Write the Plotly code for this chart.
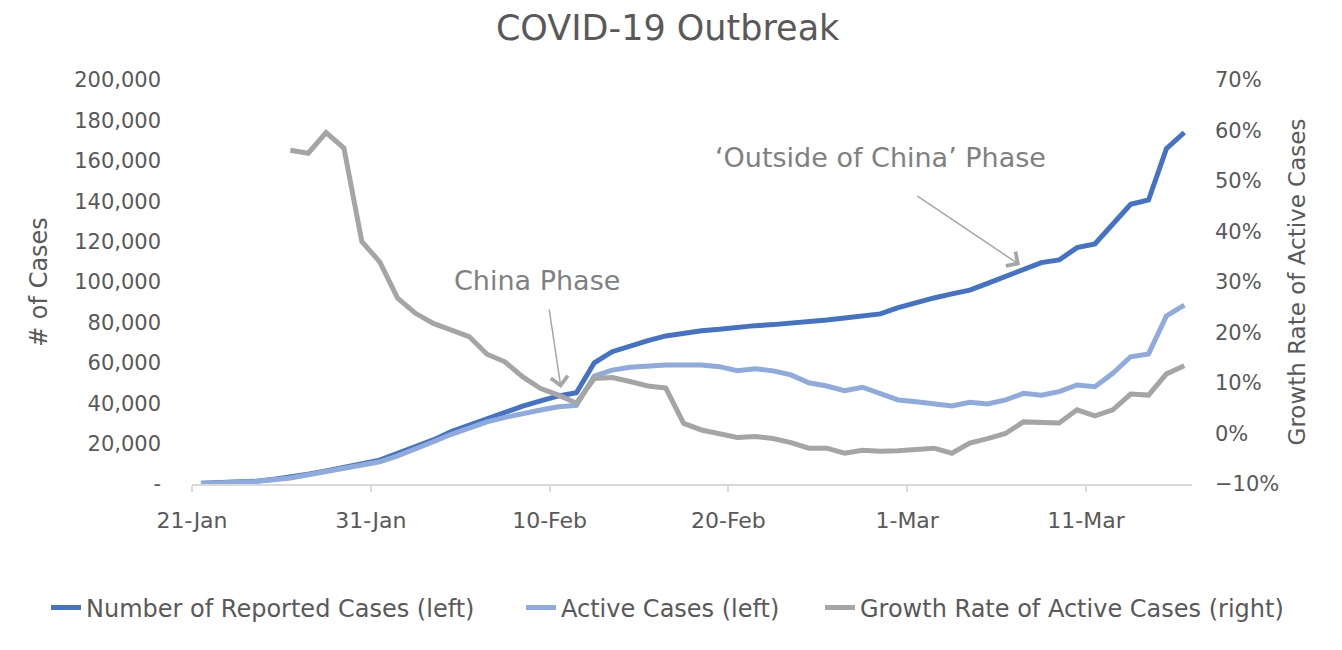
import pandas as pd
import plotly.graph_objects as go

# ---- data ----
dates = pd.date_range("2020-01-21", periods=56, freq="D")

reported_cases = [
    400, 600, 800, 1300, 2200, 3200, 4800, 6500, 8300, 10000,
    11800, 15200, 18200, 21800, 25900, 29200, 32500, 35800, 38600, 41200,
    43600, 45200, 60000, 65500, 68500, 71000, 73300, 74900, 75900, 76600,
    77600, 78400, 78900, 79500, 80200, 81200, 82200, 83200, 84200, 87300,
    89800, 92100, 94100, 96000, 99300, 102600, 106300, 109600, 110900, 117000,
    118800, 129000, 138500, 140600, 166000, 174000,
]

active_cases = [
    300, 500, 700, 1200, 2100, 3000, 4600, 6200, 7900, 9500,
    11000, 13900, 17200, 20900, 24600, 27600, 30800, 33000, 35000, 36600,
    38200, 38900, 53400, 56400, 57800, 58400, 58900, 58900, 58900, 58100,
    56100, 57100, 56000, 54000, 50100, 48500, 46200, 47900, 44900, 41600,
    40700, 39600, 38600, 40500, 39600, 41600, 44900, 44000, 45700, 49000,
    48200, 54800, 63000, 64400, 83200, 88600,
]

growth_rate = [
    None, None, None, None, None, 0.561, 0.555, 0.596, 0.565, 0.380,
    0.340, 0.268, 0.238, 0.218, 0.205, 0.192, 0.157, 0.142, 0.112, 0.089,
    0.076, 0.060, 0.109, 0.111, 0.103, 0.094, 0.090, 0.020, 0.007, -0.001,
    -0.008, -0.006, -0.010, -0.018, -0.029, -0.029, -0.039, -0.033, -0.035, -0.034,
    -0.031, -0.029, -0.039, -0.019, -0.010, 0.000, 0.023, 0.023, 0.021, 0.047,
    0.035, 0.047, 0.078, 0.076, 0.118, 0.134,
]

left_ticks = list(range(0, 200001, 20000))
left_tick_text = ["-" if v == 0 else f"{v:,}" for v in left_ticks]
right_ticks = [v / 100 for v in range(-10, 71, 10)]

FONT = "DejaVu Sans"
TXT = "#595959"
ANN = "#808080"

fig = go.Figure()
common = dict(x=dates, mode="lines", xperiod=86400000, xperiodalignment="middle")
fig.add_trace(go.Scatter(y=reported_cases, name="Number of Reported Cases (left)",
                         line=dict(color="#4472C4", width=5), legend="legend", **common))
fig.add_trace(go.Scatter(y=active_cases, name="Active Cases (left)",
                         line=dict(color="#8FAADC", width=5), legend="legend2", **common))
fig.add_trace(go.Scatter(y=growth_rate, name="Growth Rate of Active Cases (right)",
                         line=dict(color="#A5A5A5", width=5), yaxis="y2",
                         connectgaps=False, legend="legend3", **common))

legend_y = -(608 - 484) / 404


def legend_at(px_left):
    return dict(orientation="h", xref="paper", x=(px_left - 192) / 1000, xanchor="left",
                yref="paper", y=legend_y, yanchor="middle",
                font=dict(size=24, color=TXT, family=FONT),
                itemwidth=30, bgcolor="rgba(0,0,0,0)")


fig.update_layout(
    width=1342, height=650,
    margin=dict(l=192, r=150, t=80, b=166, autoexpand=False),
    paper_bgcolor="white", plot_bgcolor="white",
    font=dict(family=FONT, color=TXT, size=21),
    title=dict(text="COVID-19 Outbreak", x=0.4975, xanchor="center",
               y=1 - 28 / 650, yanchor="middle", yref="container",
               font=dict(size=35, color=TXT, family=FONT)),
    xaxis=dict(
        type="date",
        range=["2020-01-21", "2020-03-16 22:20"],
        tick0="2020-01-21", dtick=864000000, tickformat="%-d-%b",
        showgrid=False, zeroline=False,
        showline=True, linecolor="#D9D9D9", linewidth=1.5,
        ticks="outside", ticklen=6, tickcolor="#D9D9D9", tickwidth=1.5,
        tickfont=dict(size=22, color=TXT, family=FONT),
        ticklabelstandoff=10,
    ),
    yaxis=dict(
        range=[0, 200000], tickvals=left_ticks, ticktext=left_tick_text,
        showgrid=False, zeroline=False, showline=False,
        tickfont=dict(size=21, color=TXT, family=FONT),
        ticklabelstandoff=30,
        title=dict(text="# of Cases", font=dict(size=24, color=TXT, family=FONT), standoff=19),
    ),
    yaxis2=dict(
        overlaying="y", side="right",
        range=[-0.10, 0.70], tickvals=right_ticks, tickformat=".0%",
        showgrid=False, zeroline=False, showline=False,
        tickfont=dict(size=21, color=TXT, family=FONT),
        ticklabelstandoff=22,
        title=dict(text="Growth Rate of Active Cases", font=dict(size=23, color=TXT, family=FONT), standoff=10),
    ),
    legend=legend_at(46),
    legend2=legend_at(521),
    legend3=legend_at(820),
    showlegend=True,
)

# phase labels
fig.add_annotation(xref="paper", yref="paper", x=0.345, y=0.5025,
                   xanchor="center", yanchor="middle",
                   text="China Phase", showarrow=False,
                   font=dict(size=27, color=ANN, family=FONT))
fig.add_annotation(xref="paper", yref="paper", x=0.688, y=0.807,
                   xanchor="center", yanchor="middle",
                   text="\u2018Outside of China\u2019 Phase", showarrow=False,
                   font=dict(size=27, color=ANN, family=FONT))
# arrows
fig.add_annotation(xref="paper", yref="paper", x=0.369, y=0.2376, text="",
                   showarrow=True, ax=-12, ay=-80, arrowhead=4, arrowsize=2.2,
                   arrowwidth=1.5, arrowcolor="#A6A6A6")
fig.add_annotation(xref="paper", yref="paper", x=0.828, y=0.542, text="",
                   showarrow=True, ax=-104, ay=-70, arrowhead=4, arrowsize=2.2,
                   arrowwidth=1.5, arrowcolor="#A6A6A6")

fig.write_html("out.html")
